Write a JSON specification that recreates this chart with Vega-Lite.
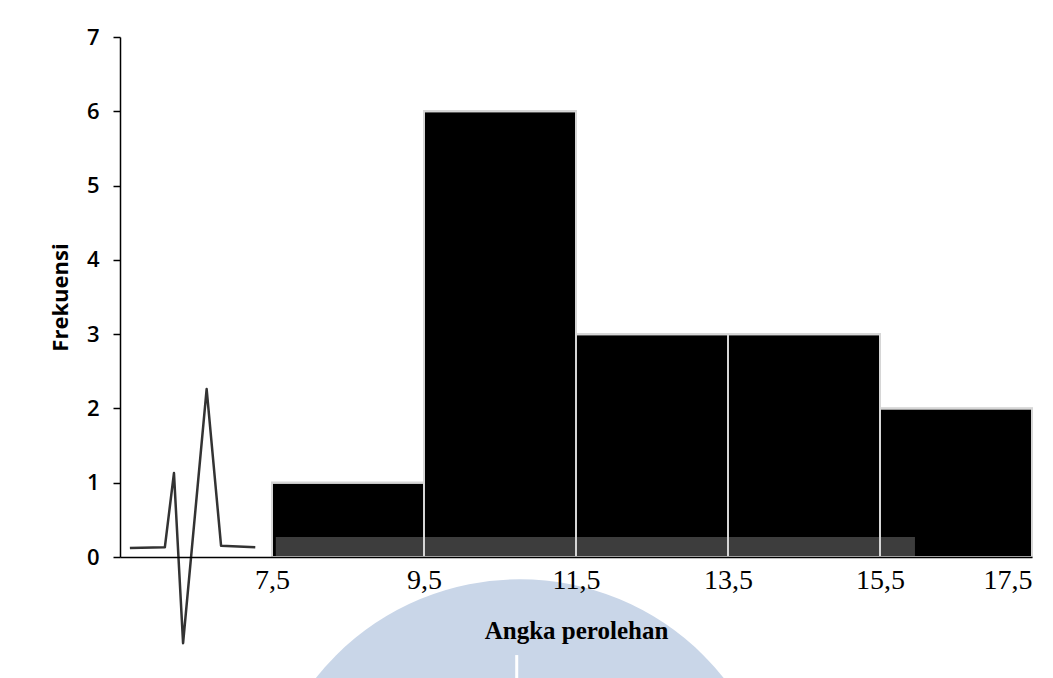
{
  "$schema": "https://vega.github.io/schema/vega-lite/v6.json",
  "autosize": {"type": "none"},
  "padding": {"left": 120, "top": 37, "right": 21, "bottom": 121},
  "width": 912,
  "height": 520,
  "background": "white",
  "config": {"view": {"stroke": null}},
  "datasets": {
    "bins": [
      {"lower": 7.5, "upper": 9.5, "freq": 1},
      {"lower": 9.5, "upper": 11.5, "freq": 6},
      {"lower": 11.5, "upper": 13.5, "freq": 3},
      {"lower": 13.5, "upper": 15.5, "freq": 3},
      {"lower": 15.5, "upper": 17.5, "freq": 2}
    ],
    "wave": [
      {"x": 5.63, "y": 0.12, "o": 1},
      {"x": 6.09, "y": 0.13, "o": 2},
      {"x": 6.21, "y": 1.13, "o": 3},
      {"x": 6.33, "y": -1.16, "o": 4},
      {"x": 6.64, "y": 2.26, "o": 5},
      {"x": 6.83, "y": 0.15, "o": 6},
      {"x": 7.28, "y": 0.13, "o": 7}
    ],
    "band": [{"x1": 7.55, "x2": 15.96, "y1": 0, "y2": 0.27}],
    "mark": [{"cx": 10.76, "cy": -3.8}],
    "cut": [{"x": 10.72, "y1": -1.32, "y2": -2.5}]
  },
  "layer": [
    {
      "data": {"name": "mark"},
      "mark": {"type": "arc", "radius": 260, "color": "#c9d6e8", "theta": 0, "theta2": 6.2832},
      "encoding": {
        "x": {
          "field": "cx", "type": "quantitative",
          "scale": {"domain": [5.5, 17.5], "nice": false, "zero": false},
          "axis": {
            "zindex": 1,
            "values": [7.5, 9.5, 11.5, 13.5, 15.5, 17.5],
            "labelExpr": "replace(format(datum.value, '.1f'), '.', ',')",
            "ticks": false,
            "grid": false,
            "domainColor": "black",
            "domainWidth": 1.5,
            "labelFont": "Liberation Serif",
            "labelFontSize": 28,
            "labelColor": "black",
            "labelPadding": 9,
            "title": "Angka perolehan",
            "titleFont": "Liberation Serif",
            "titleFontSize": 25,
            "titleFontWeight": "bold",
            "titleColor": "black",
            "titlePadding": 24
          }
        },
        "y": {
          "field": "cy", "type": "quantitative",
          "scale": {"domain": [0, 7], "nice": false, "zero": false},
          "axis": {
            "zindex": 1,
            "values": [0, 1, 2, 3, 4, 5, 6, 7],
            "format": "d",
            "grid": false,
            "tickSize": 7,
            "tickColor": "black",
            "tickWidth": 1.5,
            "domainColor": "black",
            "domainWidth": 1.5,
            "labelFont": "Open Sans",
            "labelFontSize": 22,
            "labelFontWeight": 600,
            "labelColor": "black",
            "labelPadding": 14,
            "title": "Frekuensi",
            "titleFont": "Open Sans",
            "titleFontSize": 22,
            "titleFontWeight": "bold",
            "titleColor": "black",
            "titlePadding": 14
          }
        }
      }
    },
    {
      "data": {"name": "cut"},
      "mark": {"type": "rule", "color": "white", "strokeWidth": 3},
      "encoding": {
        "x": {"field": "x", "type": "quantitative"},
        "y": {"field": "y1", "type": "quantitative"},
        "y2": {"field": "y2"}
      }
    },
    {
      "data": {"name": "bins"},
      "mark": {"type": "rect", "color": "black", "stroke": "#c8c8c8", "strokeWidth": 2},
      "encoding": {
        "x": {"field": "lower", "type": "quantitative"},
        "x2": {"field": "upper"},
        "y": {"field": "freq", "type": "quantitative"},
        "y2": {"datum": 0}
      }
    },
    {
      "data": {"name": "band"},
      "mark": {"type": "rect", "color": "#3d3d3d"},
      "encoding": {
        "x": {"field": "x1", "type": "quantitative"},
        "x2": {"field": "x2"},
        "y": {"field": "y1", "type": "quantitative"},
        "y2": {"field": "y2"}
      }
    },
    {
      "data": {"name": "bins"},
      "mark": {"type": "rect", "filled": false, "stroke": "#d6d6d6", "strokeWidth": 2},
      "encoding": {
        "x": {"field": "lower", "type": "quantitative"},
        "x2": {"field": "upper"},
        "y": {"field": "freq", "type": "quantitative"},
        "y2": {"datum": 0}
      }
    },
    {
      "data": {"name": "wave"},
      "mark": {"type": "line", "color": "#333333", "strokeWidth": 2.5, "strokeJoin": "round"},
      "encoding": {
        "x": {"field": "x", "type": "quantitative"},
        "y": {"field": "y", "type": "quantitative"},
        "order": {"field": "o"}
      }
    }
  ]
}
